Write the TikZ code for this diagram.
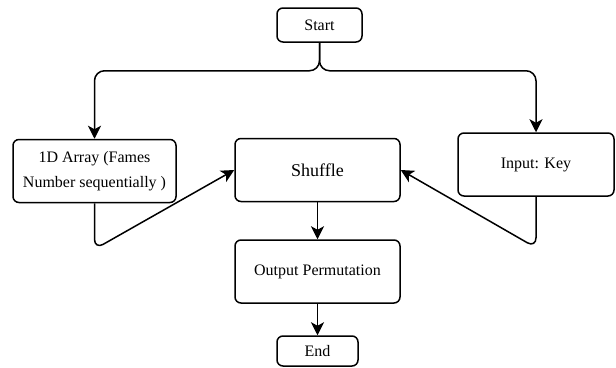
\documentclass[tikz,border=0pt]{standalone}
\usepackage{fontspec}
\setmainfont{Liberation Serif}
\usetikzlibrary{arrows.meta}
\begin{document}
\begin{tikzpicture}[x=1pt, y=-1pt,
    box/.style={draw, line width=1.5pt, rounded corners=6pt, align=center, inner sep=0pt,
                font=\fontsize{16}{25}\selectfont},
    flow/.style={line width=1.5pt, rounded corners=10pt, -{Stealth[length=13pt, width=13pt, inset=3.5pt]}}]
         \useasboundingbox (0,0) rectangle (616,367);
         \node[box, minimum width=85pt, minimum height=34pt] (start) at (319.5,25) {Start};
         \node[box, minimum width=163pt, minimum height=63pt] (array) at (94.5,171) {1D Array (Fames\\Number sequentially )};
         \node[box, minimum width=165pt, minimum height=63pt, font=\fontsize{18}{20}\selectfont] (shuffle) at (317.5,170) {Shuffle};
         \node[box, minimum width=156pt, minimum height=63pt] (key) at (536,164.5) {Input: Key};
         \node[box, minimum width=165pt, minimum height=63pt] (perm) at (317.5,271.5) {Output Permutation};
         \node[box, minimum width=81pt, minimum height=30pt] (end) at (317.5,351) {End};
         \draw[flow] (start.south) -- ++(0,28) -| (array.north);
         \draw[flow] (start.south) -- ++(0,28) -| (key.north);
         \draw[flow] (array.south) -- ++(0,46) -- (shuffle.west);
         \draw[flow] (key.south) -- ++(0,51) -- (shuffle.east);
         \draw[flow] (shuffle.south) -- (perm.north);
         \draw[flow] (perm.south) -- (end.north);
      \end{tikzpicture}
\end{document}
